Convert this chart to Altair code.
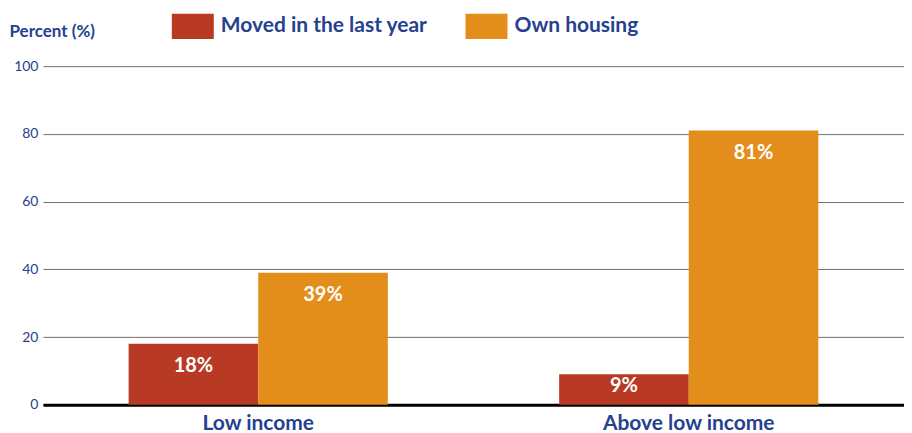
import altair as alt
import pandas as pd

groups = ["Low income", "Low income", "Above low income", "Above low income"]
series = ["Moved in the last year", "Own housing", "Moved in the last year", "Own housing"]
values = [18, 39, 9, 81]
labels = ["18%", "39%", "9%", "81%"]

series_order = ["Moved in the last year", "Own housing"]
group_order = ["Low income", "Above low income"]
colors = ["#B93A24", "#E38D1B"]
blue = "#25418F"
font = "Lato"

df = pd.DataFrame({"group": groups, "series": series, "value": values, "label": labels})

x = alt.X("group:N", sort=group_order, title=None,
          scale=alt.Scale(paddingInner=0.398, paddingOuter=0.199),
          axis=alt.Axis(labelAngle=0, labelFont=font, labelFontSize=21, labelFontWeight="bold",
                        labelColor=blue, ticks=False, domainColor="#000000", domainWidth=3,
                        labelPadding=8, grid=False))
xo = alt.XOffset("series:N", sort=series_order)

bars = alt.Chart(df).mark_bar().encode(
    x=x,
    xOffset=xo,
    y=alt.Y("value:Q", scale=alt.Scale(domain=[0, 100]),
            axis=alt.Axis(values=[0, 20, 40, 60, 80, 100], title="Percent (%)",
                          titleAngle=0, titleAlign="left", titleBaseline="middle",
                          titleX=-34, titleY=-35, titleFont=font, titleFontSize=17,
                          titleFontWeight="bold", titleColor=blue,
                          labelFont=font, labelFontSize=14, labelColor=blue,
                          labelPadding=5, ticks=False, domain=False,
                          gridColor="#6e6e6e", gridWidth=1)),
    color=alt.Color("series:N", sort=series_order,
                    scale=alt.Scale(domain=series_order, range=colors),
                    legend=alt.Legend(title=None, orient="none", legendX=129, legendY=-61,
                                      direction="horizontal",
                                      symbolType="M-1,-0.6H1V0.6H-1Z", symbolSize=1764,
                                      symbolStrokeWidth=0, symbolOpacity=1,
                                      labelFont=font, labelFontSize=21, labelFontWeight="bold",
                                      labelColor=blue, labelOffset=7, columnPadding=38,
                                      labelLimit=400)),
)

text = alt.Chart(df).transform_calculate(
    ly="datum.value > 15 ? datum.value - 6.5 : datum.value / 2 + 1"
).mark_text(font=font, fontSize=20, fontWeight="bold", color="white", baseline="middle").encode(
    x=alt.X("group:N", sort=group_order),
    xOffset=xo,
    y=alt.Y("ly:Q"),
    text="label:N",
)

chart = alt.layer(bars, text).properties(
    width=862, height=339,
    autosize=alt.AutoSizeParams(type="none"),
    padding={"left": 35, "top": 58, "right": 0, "bottom": 28},
).configure_view(stroke=None)

chart.save("out.html", embed_options={"renderer": "svg", "actions": False})
